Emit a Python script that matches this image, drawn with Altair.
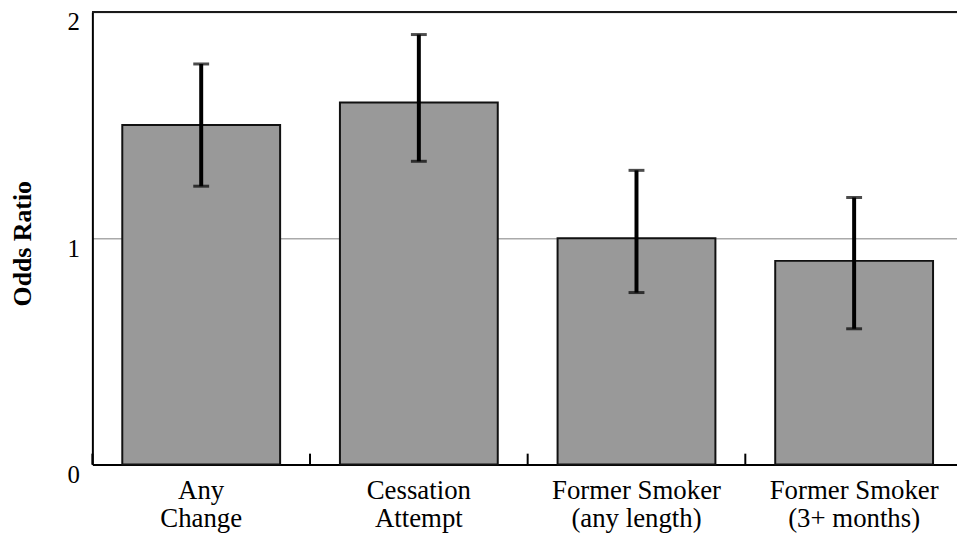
import altair as alt
import pandas as pd

categories = ["Any\nChange", "Cessation\nAttempt", "Former Smoker\n(any length)", "Former Smoker\n(3+ months)"]
odds = [1.50, 1.60, 1.00, 0.90]
lower = [1.23, 1.34, 0.76, 0.60]
upper = [1.77, 1.90, 1.30, 1.18]
y_ticks = [0, 1, 2]

df = pd.DataFrame({"cat": categories, "odds": odds, "lower": lower, "upper": upper})

FONT = "Liberation Serif"

xscale = alt.Scale(domain=categories, range=[0, 877], paddingInner=0, paddingOuter=0)
yscale = alt.Scale(domain=[0, 2], nice=False, zero=True)

xaxis = alt.Axis(
    title=None, labelAngle=0, ticks=False, tickSize=0, grid=False,
    domainColor="black", domainWidth=2,
    labelFont=FONT, labelFontSize=27, labelColor="black",
    labelLineHeight=28, labelBaseline="top", labelPadding=13,
    labelExpr="split(datum.label, '\\n')", labelOverlap=False,
)
yaxis = alt.Axis(
    values=y_ticks, labelExpr="toString(round(datum.value))", title="Odds Ratio",
    ticks=False, tickSize=0,
    domainColor="black", domainWidth=2,
    grid=True, gridColor="#aaaaaa", gridWidth=1.5,
    labelFont=FONT, labelFontSize=25, labelColor="black", labelOverlap=False,
    labelBaseline="top", labelOffset=-2, labelPadding=13, labelFlush=False,
    titleFont=FONT, titleFontSize=26, titleFontWeight="bold", titleColor="black",
    titleAngle=270, titleAlign="center", titleBaseline="middle",
    titleX=-70, titleY=233,
)

base = alt.Chart(df)
X = alt.X("cat:N", scale=xscale, axis=xaxis, sort=categories)

bars = base.mark_bar(size=159, fill="#999999", stroke="#111111", strokeWidth=2).encode(
    x=X,
    y=alt.Y("odds:Q", scale=yscale, axis=yaxis),
)

err = base.mark_rule(color="black", strokeWidth=4).encode(
    x=X,
    y=alt.Y("lower:Q", scale=yscale, axis=yaxis),
    y2="upper:Q",
)
cap_lo = base.mark_tick(color="black", thickness=3, size=16).encode(
    x=X,
    y=alt.Y("lower:Q", scale=yscale, axis=yaxis),
)
cap_hi = base.mark_tick(color="black", thickness=3, size=16).encode(
    x=X,
    y=alt.Y("upper:Q", scale=yscale, axis=yaxis),
)

top_line = base.mark_rule(color="#1a1a1a", strokeWidth=2).encode(
    y=alt.Y(datum=2, scale=yscale, axis=yaxis),
)

xticks = base.mark_rule(color="black", strokeWidth=2).encode(
    x=alt.X("cat:N", scale=xscale, axis=xaxis, sort=categories, bandPosition=0),
    y=alt.value(456),
    y2=alt.value(445),
)

chart = alt.layer(bars, err, cap_lo, cap_hi, top_line, xticks).properties(
    width=871, height=456,
    autosize=alt.AutoSizeParams(type="none"),
    padding={"left": 85, "top": 2, "right": 0, "bottom": 70},
).configure_view(stroke=None).configure(background="white")

chart.save("out.html", embed_options={"renderer": "svg", "actions": False})
